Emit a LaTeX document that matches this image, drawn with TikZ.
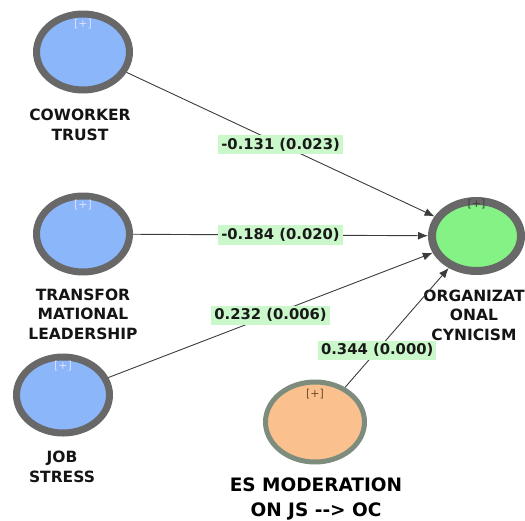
\documentclass[tikz,border=0pt]{standalone}
\usepackage{fontspec}
\setmainfont{DejaVu Sans}
\usetikzlibrary{shapes.geometric,arrows.meta,positioning}
\definecolor{lvblue}{RGB}{140,182,250}
\definecolor{lvgreen}{RGB}{132,242,132}
\definecolor{lvorange}{RGB}{250,192,142}
\definecolor{ringgray}{RGB}{104,104,104}
\definecolor{ringsage}{RGB}{125,140,125}
\definecolor{coefgreen}{RGB}{202,248,202}
\definecolor{pathgray}{RGB}{60,60,60}

\begin{document}
\begin{tikzpicture}[x=1pt, y=-1pt,
  latent/.style={ellipse, draw=ringgray, line width=7pt, inner sep=0pt,
    minimum width=93pt, minimum height=76pt},
  plusmark/.style={font=\fontsize{11}{11}\selectfont, inner sep=1pt},
  lvname/.style={font=\fontsize{15.5}{19.5}\bfseries, align=center, text=black!92},
  coef/.style={fill=coefgreen, inner xsep=3pt, inner ysep=3pt,
    font=\fontsize{14.8}{14.8}\bfseries, text=black!90},
  path/.style={draw=pathgray, line width=0.9pt, -{Latex[length=10pt,width=8pt]}}]
\useasboundingbox (0,0) rectangle (525,520);

\node[latent, fill=lvblue] (ct) at (83,52) {};
\node[latent, fill=lvblue] (tl) at (83,234) {};
\node[latent, fill=lvblue] (js) at (63,395) {};
\node[latent, fill=lvgreen, line width=8pt, minimum width=89pt, minimum height=70pt] (oc) at (476.5,236) {};
\node[latent, fill=lvorange, draw=ringsage, line width=5pt, minimum width=99pt, minimum height=80pt] (es) at (315,422) {};

\node[plusmark, text=white!88!blue, below=7pt of ct.north] (ctplus) {[+]};
\node[plusmark, text=white!88!blue, below=6pt of tl.north] (tlplus) {[+]};
\node[plusmark, text=white!88!blue, below=6pt of js.north] (jsplus) {[+]};
\node[plusmark, text=black!75, below=1pt of oc.north] (ocplus) {[+]};
\node[plusmark, text=brown!60!black, below=8pt of es.north] (esplus) {[+]};

\node[lvname] (ctname) at (80,125) {COWORKER\\TRUST};
\node[lvname] (tlname) at (83,314) {TRANSFOR\\MATIONAL\\LEADERSHIP};
\node[lvname] (jsname) at (62,467) {JOB\\STRESS};
\node[lvname] (ocname) at (474,315) {ORGANIZAT\\ONAL\\CYNICISM};
\node[lvname, font=\fontsize{18.5}{25}\bfseries, text=black] (esname) at (316,499) {ES MODERATION\\ON JS {-}{-}> OC};

\draw[path] (ct) -- node[coef] (c1) {-0.131 (0.023)} (oc);
\draw[path] (tl) -- node[coef] (c2) {-0.184 (0.020)} (oc);
\draw[path] (js) -- node[coef] (c3) {0.232 (0.006)} (oc);
\draw[path] (es) -- node[coef, pos=0.31] (c4) {0.344 (0.000)} (oc);
\end{tikzpicture}
\end{document}
